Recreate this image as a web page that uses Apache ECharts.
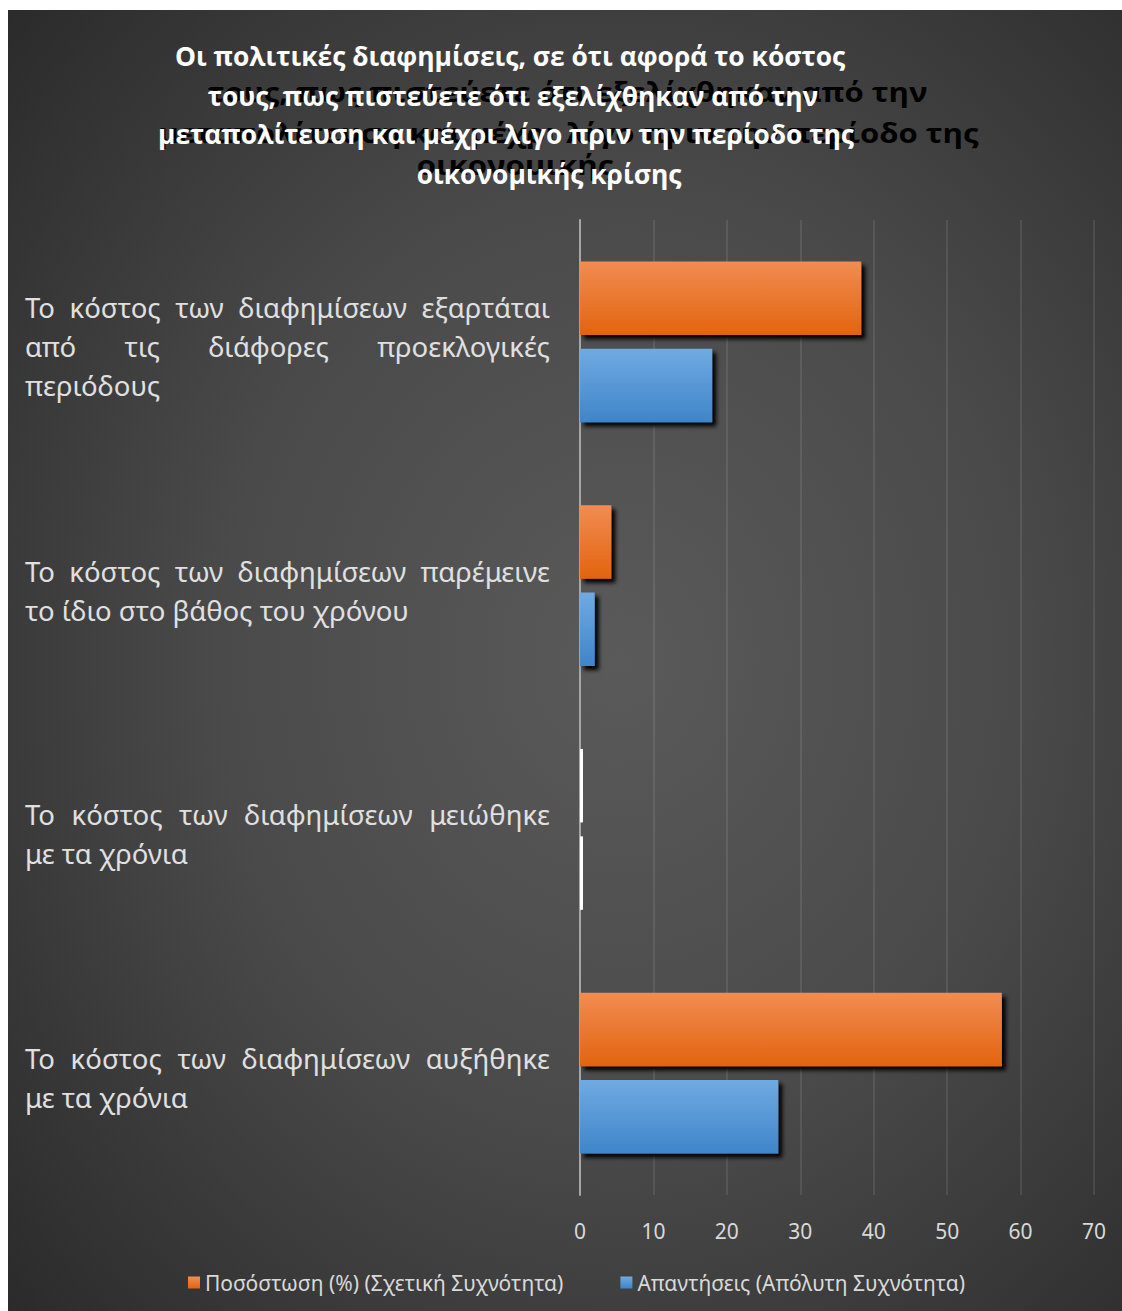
<!DOCTYPE html>
<html>
<head>
<meta charset="utf-8">
<script src="https://cdn.jsdelivr.net/npm/echarts@6/dist/echarts.min.js"></script>
<style>
  html, body { margin: 0; padding: 0; background: #ffffff; }
  #chart { position: absolute; left: 8px; top: 10px; width: 1114px; height: 1301px; }
</style>
</head>
<body>
<div id="chart"></div>
<script>
// Survey answers (top to bottom), with explicit line breaks for the axis labels
const categories = [
  'Το κόστος των διαφημίσεων εξαρτάται\nαπό τις διάφορες προεκλογικές\nπεριόδους',
  'Το κόστος των διαφημίσεων παρέμεινε\nτο ίδιο στο βάθος του χρόνου',
  'Το κόστος των διαφημίσεων μειώθηκε\nμε τα χρόνια',
  'Το κόστος των διαφημίσεων αυξήθηκε\nμε τα χρόνια'
];
const percentValues = [38.3, 4.26, 0, 57.45];
const countValues = [18, 2, 0, 27];
const seriesNames = ['Ποσόστωση (%) (Σχετική Συχνότητα)', 'Απαντήσεις (Απόλυτη Συχνότητα)'];
const titleLines = [
  'Οι πολιτικές διαφημίσεις, σε ότι αφορά το κόστος',
  'τους, πως πιστεύετε ότι εξελίχθηκαν από την',
  'μεταπολίτευση και μέχρι λίγο πριν την περίοδο της',
  'οικονομικής κρίσης'
];
const shadowTitleLines = [
  'τους, πως πιστεύετε ότι εξελίχθηκαν από την',
  'μεταπολίτευση και μέχρι λίγο πριν την περίοδο της',
  'οικονομικής'
];
const xMin = 0, xMax = 70, xStep = 10;

const LABEL_FONT_SIZE = 27.5;
const LABEL_FAMILY = 'Noto Sans';
const LABEL_WIDTH = 525;
const TITLE_FONT = 'bold 27px "Open Sans"';
const TITLE_FIRST_LINE_WIDTH = 670;

const measureCtx = document.createElement('canvas').getContext('2d');
function textWidth(str, font) {
  measureCtx.font = font;
  return measureCtx.measureText(str).width;
}

// Justify every line of a label except its last one, using rich-text spacer tokens
const richStyles = {};
let gapCount = 0;
function justify(label) {
  const font = LABEL_FONT_SIZE + 'px ' + LABEL_FAMILY;
  const lines = label.split('\n');
  return lines.map((line, li) => {
    const words = line.split(' ');
    if (li === lines.length - 1 || words.length < 2) return line;
    const wordsWidth = words.reduce((s, w) => s + textWidth(w, font), 0);
    const gap = (LABEL_WIDTH - wordsWidth) / (words.length - 1);
    const key = 'g' + (gapCount++);
    richStyles[key] = { width: gap, fontSize: LABEL_FONT_SIZE, fontFamily: LABEL_FAMILY };
    return words.join('{' + key + '| }');
  }).join('\n');
}
const justifiedLabels = categories.map(justify);

function barData(values) {
  return values.map(v => v === 0
    ? { value: v, itemStyle: { color: '#ffffff', shadowColor: 'rgba(0,0,0,0)', shadowBlur: 0, shadowOffsetX: 0, shadowOffsetY: 0 } }
    : v);
}

function barSeries(name, values, topColor, bottomColor) {
  return {
    name: name,
    type: 'bar',
    data: barData(values),
    barMinHeight: 3,
    barGap: '19%',
    barCategoryGap: '34%',
    clip: false,
    itemStyle: {
      color: {
        type: 'linear', x: 0, y: 0, x2: 0, y2: 1,
        colorStops: [{ offset: 0, color: topColor }, { offset: 1, color: bottomColor }]
      },
      shadowColor: '#000000',
      shadowBlur: 4,
      shadowOffsetX: 4,
      shadowOffsetY: 4
    }
  };
}

// Title: a black, wider echo behind the white lines
const titleScale = TITLE_FIRST_LINE_WIDTH / textWidth(titleLines[0], TITLE_FONT);
const titleCenters = [502, 505, 498, 541];
const titleYs = [45, 85, 123, 163];
const titleGraphics = [];
const whiteLefts = titleLines.map((t, i) => titleCenters[i] - textWidth(t, TITLE_FONT) * titleScale / 2);
const shadowYs = [82, 123, 155];
shadowTitleLines.forEach((t, i) => {
  titleGraphics.push({
    type: 'text', z: 50, x: whiteLefts[i + 1], y: shadowYs[i], scaleX: 1.18 * titleScale,
    style: { text: t, font: TITLE_FONT, fill: '#000000', textAlign: 'left', textVerticalAlign: 'middle' }
  });
});
titleLines.forEach((t, i) => {
  titleGraphics.push({
    type: 'text', z: 60, x: titleCenters[i], y: titleYs[i], scaleX: titleScale,
    style: { text: t, font: TITLE_FONT, fill: '#ffffff', textAlign: 'center', textVerticalAlign: 'middle' }
  });
});

const chart = echarts.init(document.getElementById('chart'), null, { renderer: 'svg' });
chart.setOption({
  backgroundColor: {
    type: 'radial', x: 0.55, y: 0.5, r: 0.8,
    colorStops: [
      { offset: 0, color: '#5a5a5a' },
      { offset: 0.45, color: '#4a4a4a' },
      { offset: 1, color: '#262626' }
    ]
  },
  graphic: titleGraphics,
  grid: { left: 572, right: 28, top: 210, bottom: 116, containLabel: false },
  legend: {
    left: 180, top: 1262, padding: 0,
    icon: 'rect', itemWidth: 12, itemHeight: 12, itemGap: 57,
    textStyle: { color: '#d9d9d9', fontSize: 21, fontFamily: 'Noto Sans' },
    data: seriesNames
  },
  xAxis: {
    type: 'value', min: xMin, max: xMax, interval: xStep,
    axisLine: { show: false }, axisTick: { show: false },
    axisLabel: { color: '#d9d9d9', fontSize: 21, fontFamily: 'Noto Sans', margin: 25 },
    splitLine: { lineStyle: { color: 'rgba(255,255,255,0.12)', width: 1.5 } }
  },
  yAxis: {
    type: 'category', data: categories, inverse: true,
    axisLine: { lineStyle: { color: '#a6a6a6', width: 2 } },
    axisTick: { show: false },
    axisLabel: {
      interval: 0, align: 'left', margin: 555,
      color: '#e0e0e0', fontSize: LABEL_FONT_SIZE, fontFamily: LABEL_FAMILY, lineHeight: 39,
      padding: [10, 0, 0, 0],
      formatter: (v, i) => justifiedLabels[i],
      rich: richStyles
    }
  },
  series: [
    barSeries(seriesNames[0], percentValues, '#f28c52', '#e2640f'),
    barSeries(seriesNames[1], countValues, '#70aae2', '#3f85ca')
  ]
});
</script>
</body>
</html>
